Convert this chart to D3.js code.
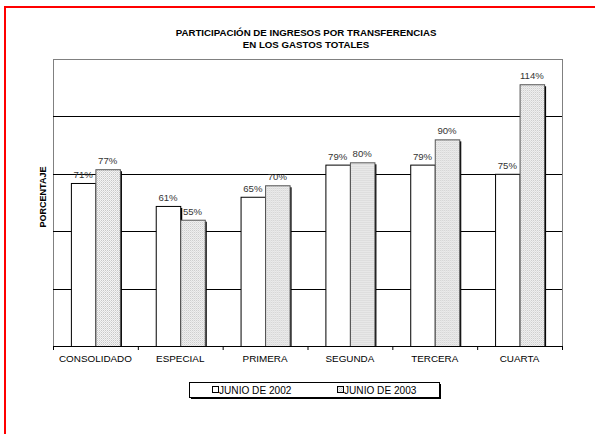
<!DOCTYPE html>
<html lang="es">
<head>
<meta charset="utf-8">
<script src="https://d3js.org/d3.v7.min.js"></script>
<style>
  body { margin: 0; background: #fff; }
  text { font-family: "Liberation Sans", Arial, sans-serif; }
</style>
</head>
<body>
<script>
// data
const categories = ["CONSOLIDADO", "ESPECIAL", "PRIMERA", "SEGUNDA", "TERCERA", "CUARTA"];
const seriesNames = ["JUNIO DE 2002", "JUNIO DE 2003"];
const junio2002 = [71, 61, 65, 79, 79, 75];
const junio2003 = [77, 55, 70, 80, 90, 114];
const gridValues = [25, 50, 75, 100];
const titleLines = ["PARTICIPACIÓN DE INGRESOS POR TRANSFERENCIAS", "EN LOS GASTOS TOTALES"];
const yTitle = "PORCENTAJE";

const W = 595, H = 434;
const plotLeft = 53, plotRight = 562, plotTop = 59, plotBottom = 346;

const svg = d3.select("body").append("svg")
  .attr("width", W).attr("height", H);

// dotted pattern for 2003 bars
const defs = svg.append("defs");
const pat = defs.append("pattern").attr("id", "dots")
  .attr("width", 2).attr("height", 2).attr("patternUnits", "userSpaceOnUse");
pat.append("rect").attr("width", 2).attr("height", 2).attr("fill", "#f4f4f4");
pat.append("rect").attr("width", 1).attr("height", 1).attr("fill", "#c8c8c8");
pat.append("rect").attr("x", 1).attr("y", 1).attr("width", 1).attr("height", 1).attr("fill", "#dcdcdc");

// red frame
svg.append("rect")
  .attr("x", 5).attr("y", 7).attr("width", W + 20).attr("height", H + 20)
  .attr("fill", "none").attr("stroke", "#ff0000").attr("stroke-width", 2);

// title
svg.append("g").selectAll("text")
  .data(titleLines).enter().append("text")
  .attr("x", 306).attr("y", (d, i) => 36 + i * 12)
  .attr("text-anchor", "middle")
  .style("font-size", "9.7px").style("font-weight", "bold")
  .text(d => d);

// scales
const x0 = d3.scaleBand().domain(categories).range([plotLeft, plotRight]);
const x1 = d3.scaleBand().domain(seriesNames).range([0, x0.bandwidth()]).paddingOuter(0.73);
const y = d3.scaleLinear().domain([0, 125]).range([plotBottom, plotTop]);

// plot frame (gray)
svg.append("rect")
  .attr("x", plotLeft + 0.5).attr("y", y(125) + 0.5)
  .attr("width", plotRight - plotLeft).attr("height", y(0) - y(125))
  .attr("fill", "none").attr("stroke", "#808080").attr("stroke-width", 1);

// gridlines
const grid = svg.append("g")
  .attr("transform", `translate(${plotLeft},0)`)
  .call(d3.axisLeft(y).tickValues(gridValues).tickSize(-(plotRight - plotLeft)).tickFormat(""));
grid.select(".domain").remove();
grid.selectAll("line").attr("stroke", "#000").attr("shape-rendering", "crispEdges");

// bars
const rows = categories.map((c, i) => ({ cat: c, vals: [junio2002[i], junio2003[i]] }));
const groups = svg.append("g").selectAll("g")
  .data(rows).enter().append("g")
  .attr("transform", d => `translate(${x0(d.cat)},0)`);

const barData = d => seriesNames.map((s, k) => ({ s: s, k: k, v: d.vals[k] }));

groups.selectAll("rect.shadow")
  .data(barData).enter().append("rect")
  .attr("class", "shadow")
  .attr("x", d => x1(d.s) + 2)
  .attr("y", d => y(d.v) + 2)
  .attr("width", x1.bandwidth())
  .attr("height", d => y(0) - y(d.v) - 2)
  .attr("fill", "#000");

groups.selectAll("rect.bar")
  .data(barData).enter().append("rect")
  .attr("class", "bar")
  .attr("x", d => x1(d.s) + 0.5)
  .attr("y", d => y(d.v) + 0.5)
  .attr("width", x1.bandwidth())
  .attr("height", d => y(0) - y(d.v))
  .attr("fill", d => d.k === 0 ? "#fff" : "url(#dots)")
  .attr("stroke", d => d.k === 0 ? "#000" : "#555")
  .attr("stroke-width", 1);

groups.selectAll("text")
  .data(barData).enter().append("text")
  .attr("x", d => x1(d.s) + x1.bandwidth() / 2)
  .attr("y", d => y(d.v) - 5)
  .attr("text-anchor", "middle")
  .style("font-size", "9.6px").attr("fill", "#333")
  .text(d => d.v + "%");

// x axis
const xAxis = svg.append("g")
  .attr("transform", `translate(0,${plotBottom})`)
  .call(d3.axisBottom(x0).tickSize(0).tickPadding(9));
xAxis.select(".domain").remove();
xAxis.selectAll("text")
  .style("font-size", "9.9px").attr("fill", "#000")
  .style("font-family", "Liberation Sans, Arial, sans-serif");

svg.append("line")
  .attr("x1", plotLeft).attr("x2", plotRight + 1)
  .attr("y1", plotBottom + 0.5).attr("y2", plotBottom + 0.5)
  .attr("stroke", "#000").attr("stroke-width", 1.2);

svg.append("g").selectAll("line")
  .data(categories.concat(["_end"])).enter().append("line")
  .attr("x1", d => (d === "_end" ? plotRight : x0(d)) + 0.5)
  .attr("x2", d => (d === "_end" ? plotRight : x0(d)) + 0.5)
  .attr("y1", plotBottom).attr("y2", plotBottom + 4)
  .attr("stroke", "#000");

// y title
svg.append("text")
  .attr("transform", "translate(46,197) rotate(-90)")
  .attr("text-anchor", "middle")
  .style("font-size", "9px").style("font-weight", "bold")
  .text(yTitle);

// legend
const leg = svg.append("g");
leg.append("rect").attr("x", 191).attr("y", 384).attr("width", 250).attr("height", 15).attr("fill", "#000");
leg.append("rect").attr("x", 189.5).attr("y", 382.5).attr("width", 250).attr("height", 15)
  .attr("fill", "#fff").attr("stroke", "#000");
const legX = [212, 337];
const items = leg.selectAll("g.item").data(seriesNames).enter().append("g")
  .attr("transform", (d, i) => `translate(${legX[i]},386)`);
items.append("rect").attr("x", 0.5).attr("y", 0.5).attr("width", 6).attr("height", 6)
  .attr("fill", (d, i) => i === 0 ? "#fff" : "url(#dots)").attr("stroke", "#000");
items.append("text").attr("x", 7).attr("y", 7.8)
  .style("font-size", "10.1px").text(d => d);
</script>
</body>
</html>
